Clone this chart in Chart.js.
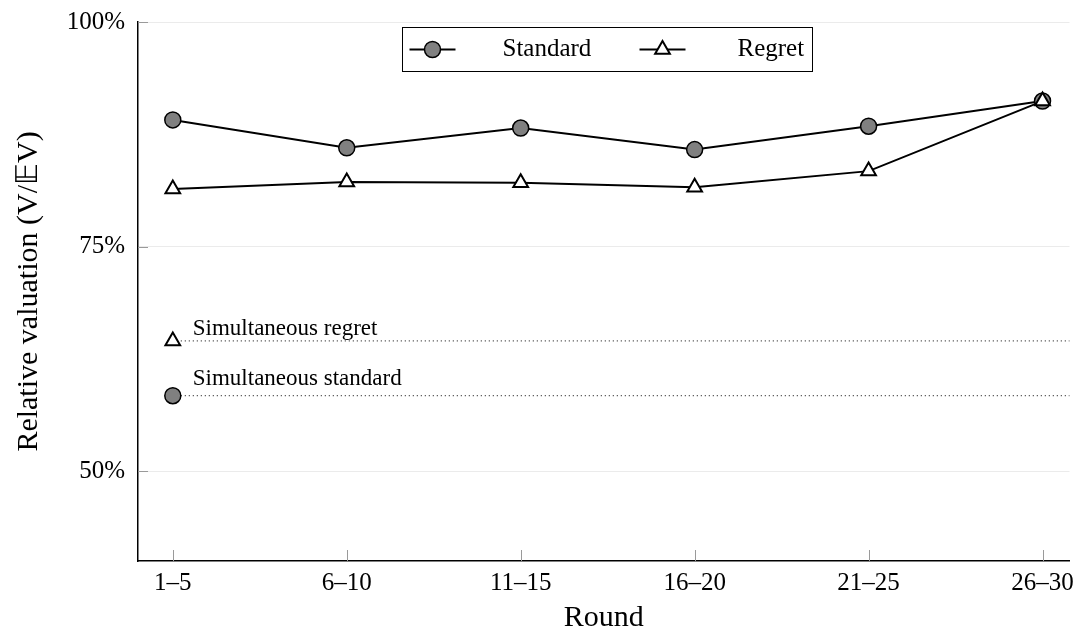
<!DOCTYPE html>
<html>
<head>
<meta charset="utf-8">
<script src="https://cdn.jsdelivr.net/npm/chart.js@4/dist/chart.umd.min.js"></script>
<style>
  html, body { margin: 0; padding: 0; background: #fff; }
  #wrap { width: 1080px; height: 636px; }
</style>
</head>
<body>
<div id="wrap"><canvas id="chart"></canvas></div>
<script>
// ---- data ----
const categories = ["1–5", "6–10", "11–15", "16–20", "21–25", "26–30"];
const standard = [89.1, 86.0, 88.2, 85.8, 88.4, 91.2];
const regret = [81.4, 82.2, 82.1, 81.6, 83.4, 91.2];
const simRegret = 64.5;
const simStandard = 58.4;
const yTicks = [50, 75, 100];

const serif = "'Liberation Serif', 'Times New Roman', serif";

// line from first category to right edge, marker only on the first point
function simLine(v) {
  return [{ x: 0, y: v }, { x: 5.3, y: v }];
}

// gray tick marks drawn inside the plot area
const innerTicks = {
  id: "innerTicks",
  afterDraw(chart) {
    const { ctx, chartArea, scales } = chart;
    ctx.save();
    ctx.strokeStyle = "#9a9a9a";
    ctx.lineWidth = 1;
    scales.y.ticks.forEach((t) => {
      const y = Math.round(scales.y.getPixelForValue(t.value)) + 0.5;
      ctx.beginPath();
      ctx.moveTo(chartArea.left, y);
      ctx.lineTo(chartArea.left + 10, y);
      ctx.stroke();
    });
    scales.x.ticks.forEach((t) => {
      const x = Math.round(scales.x.getPixelForValue(t.value)) + 0.5;
      ctx.beginPath();
      ctx.moveTo(x, chartArea.bottom);
      ctx.lineTo(x, chartArea.bottom - 11);
      ctx.stroke();
    });
    ctx.restore();
  },
};

// texts next to the simultaneous reference lines
const simLabels = {
  id: "simLabels",
  afterDatasetsDraw(chart) {
    const { ctx, scales } = chart;
    ctx.save();
    ctx.fillStyle = "#000";
    ctx.font = "23px " + serif;
    ctx.textAlign = "left";
    ctx.textBaseline = "alphabetic";
    const x = scales.x.getPixelForValue(0) + 20;
    ctx.fillText("Simultaneous regret", x, scales.y.getPixelForValue(simRegret) - 6);
    ctx.fillText("Simultaneous standard", x, scales.y.getPixelForValue(simStandard) - 11);
    ctx.restore();
  },
};

// pgfplots-like legend box inside the plot
const boxLegend = {
  id: "boxLegend",
  afterDraw(chart) {
    const { ctx, chartArea } = chart;
    const cx = (chartArea.left + chartArea.right) / 2;
    const w = 410, h = 44;
    const left = Math.round(cx - w / 2) + 3.5;
    const top = chartArea.top + 5.5;
    ctx.save();
    ctx.fillStyle = "#fff";
    ctx.fillRect(left, top, w, h);
    ctx.strokeStyle = "#000";
    ctx.lineWidth = 1;
    ctx.strokeRect(left, top, w, h);

    const midY = top + h / 2;
    const items = [
      { ds: chart.data.datasets[0], x: left + 7, label: "Standard", tx: left + 100 },
      { ds: chart.data.datasets[1], x: left + 237, label: "Regret", tx: left + 335 },
    ];
    items.forEach((it) => {
      ctx.strokeStyle = "#000";
      ctx.lineWidth = 2;
      ctx.beginPath();
      ctx.moveTo(it.x, midY);
      ctx.lineTo(it.x + 46, midY);
      ctx.stroke();
      ctx.fillStyle = it.ds.pointBackgroundColor;
      ctx.strokeStyle = it.ds.pointBorderColor;
      ctx.lineWidth = it.ds.pointBorderWidth;
      Chart.helpers.drawPoint(ctx, {
        pointStyle: it.ds.pointStyle,
        radius: it.ds.pointRadius,
        borderWidth: it.ds.pointBorderWidth,
        rotation: 0,
      }, it.x + 23, midY);
      ctx.fillStyle = "#000";
      ctx.font = "25px " + serif;
      ctx.textAlign = "left";
      ctx.textBaseline = "middle";
      ctx.fillText(it.label, it.tx, midY);
    });
    ctx.restore();
  },
};

const ctx = document.getElementById("chart").getContext("2d");

new Chart(ctx, {
  type: "line",
  data: {
    datasets: [
      {
        label: "Standard",
        data: standard.map((v, i) => ({ x: i, y: v })),
        borderColor: "#000",
        borderWidth: 2,
        pointStyle: "circle",
        pointRadius: 8,
        pointBorderWidth: 1.5,
        pointBackgroundColor: "#808080",
        pointBorderColor: "#000",
        order: 2,
      },
      {
        label: "Regret",
        data: regret.map((v, i) => ({ x: i, y: v })),
        borderColor: "#000",
        borderWidth: 2,
        pointStyle: "triangle",
        pointRadius: 8.5,
        pointBorderWidth: 2,
        pointBackgroundColor: "#fff",
        pointBorderColor: "#000",
        order: 1,
      },
      {
        label: "Simultaneous regret",
        data: simLine(simRegret),
        borderColor: "#000",
        borderWidth: 1,
        borderDash: [1, 3],
        pointStyle: "triangle",
        pointRadius: [8.5, 0],
        pointBorderWidth: 2,
        pointBackgroundColor: "#fff",
        pointBorderColor: "#000",
      },
      {
        label: "Simultaneous standard",
        data: simLine(simStandard),
        borderColor: "#000",
        borderWidth: 1,
        borderDash: [1, 3],
        pointStyle: "circle",
        pointRadius: [8, 0],
        pointBorderWidth: 1.5,
        pointBackgroundColor: "#808080",
        pointBorderColor: "#000",
      },
    ],
  },
  options: {
    responsive: true,
    maintainAspectRatio: false,
    animation: false,
    layout: { padding: { top: 22, right: 2, left: 0, bottom: 0 } },
    plugins: {
      legend: { display: false },
      tooltip: { enabled: false },
    },
    scales: {
      x: {
        type: "linear",
        min: -0.2,
        max: 5.155,
        afterBuildTicks: (scale) => {
          scale.ticks = categories.map((c, i) => ({ value: i }));
        },
        afterFit: (scale) => {
          scale.height = 75;
          scale.paddingLeft = 0;
          scale.paddingRight = 0;
        },
        ticks: {
          callback: (v) => categories[v],
          color: "#000",
          font: { family: serif, size: 25 },
          padding: 7,
          maxRotation: 0,
          autoSkip: false,
        },
        grid: { display: false, drawTicks: false },
        border: { color: "#000", width: 1.5 },
        title: {
          display: true,
          text: "Round",
          color: "#000",
          font: { family: serif, size: 30 },
          padding: { top: 8, bottom: 0 },
        },
      },
      y: {
        min: 40,
        max: 100,
        afterBuildTicks: (scale) => {
          scale.ticks = yTicks.map((v) => ({ value: v }));
        },
        afterFit: (scale) => {
          scale.width = 138;
          scale.paddingTop = 0;
          scale.paddingBottom = 0;
        },
        ticks: {
          callback: (v) => v + "%",
          color: "#000",
          font: { family: serif, size: 25 },
          padding: 13,
        },
        grid: { color: "#ebebeb", lineWidth: 1, drawTicks: false },
        border: { color: "#000", width: 1.5 },
        title: {
          display: true,
          text: "Relative valuation (V/𝔼V)",
          color: "#000",
          font: { family: serif, size: 30 },
          padding: { top: 11, bottom: 0 },
        },
      },
    },
  },
  plugins: [innerTicks, simLabels, boxLegend],
});
</script>
</body>
</html>
